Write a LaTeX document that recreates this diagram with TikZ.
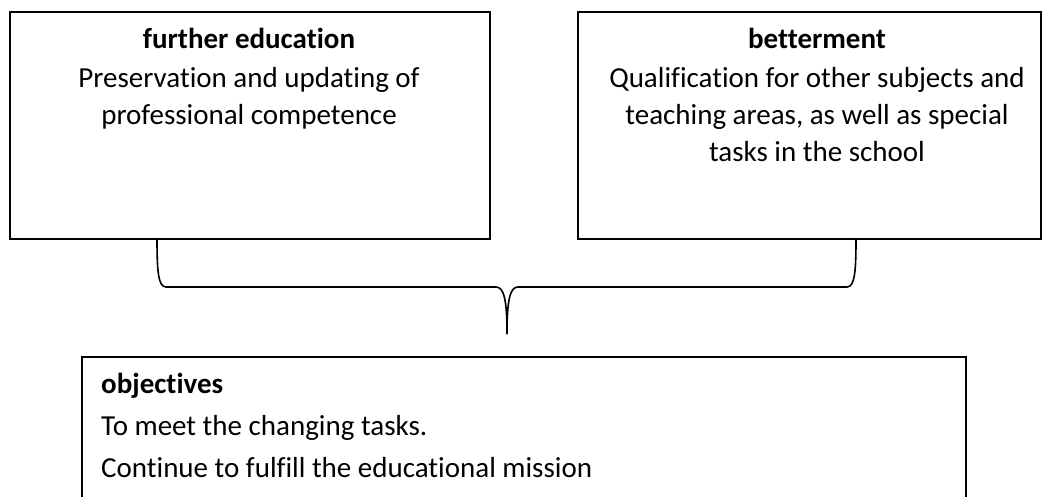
\documentclass[tikz,border=0pt]{standalone}
\usepackage{fontspec}
\setmainfont{Carlito}[Ligatures={NoCommon}]
\begin{document}
\begin{tikzpicture}[x=1pt,y=-1pt,
  box/.style={draw=black, line width=1.6pt, inner sep=0pt, anchor=north west},
  txt/.style={anchor=base, inner sep=0pt, font=\fontsize{29}{37}\selectfont},
  ltxt/.style={anchor=base west, inner sep=0pt, font=\fontsize{29}{37}\selectfont},
  brace/.style={draw=black, line width=1.6pt}]
\useasboundingbox (0,0) rectangle (1043,497);
\clip (0,0) rectangle (1043,497);
% boxes
\node[box, minimum width=480pt, minimum height=227pt] (fe) at (9,11) {};
\node[box, minimum width=463pt, minimum height=227pt] (bt) at (577,11) {};
\node[box, minimum width=884pt, minimum height=200pt] (ob) at (81,356) {};
% texts
\node[txt, font=\fontsize{29}{37}\selectfont\bfseries] (fe1) at (249,49) {further education};
\node[txt] (fe2) at (249,88) {Preservation and updating of};
\node[txt] (fe3) at (249,125) {professional competence};
\node[txt, font=\fontsize{29}{37}\selectfont\bfseries] (bt1) at (817,49) {betterment};
\node[txt] (bt2) at (817,88) {Qualification for other subjects and};
\node[txt] (bt3) at (817,125) {teaching areas, as well as special};
\node[txt] (bt4) at (817,162) {tasks in the school};
\node[ltxt, font=\fontsize{29}{37}\selectfont\bfseries] (ob1) at (101,393) {objectives};
\node[ltxt] (ob2) at (101,435) {To meet the changing tasks.};
\node[ltxt] (ob3) at (101,477) {Continue to fulfill the educational mission};
% brace
\coordinate (bl) at (157,238);
\coordinate (br) at (856,238);
\coordinate (tip) at (507,334);
\draw[brace] (bl) .. controls (157,270) and (158,287) .. (166,287)
  -- (496,287) .. controls (504,287) and (507,300) .. (tip);
\draw[brace] (br) .. controls (856,270) and (855,287) .. (847,287)
  -- (518,287) .. controls (510,287) and (507,300) .. (tip);
\end{tikzpicture}
\end{document}
